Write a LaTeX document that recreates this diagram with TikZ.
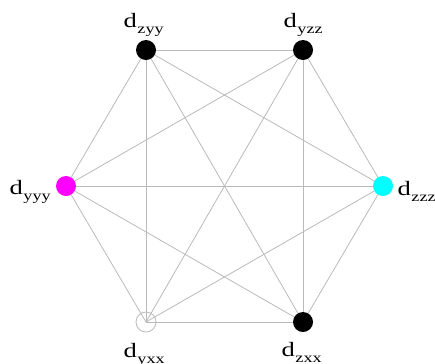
\documentclass[tikz,border=0pt]{standalone}
\usepackage{fontspec}
\setmainfont{Liberation Serif}[FakeStretch=1.3]
\definecolor{pmag}{RGB}{255,0,255}
\definecolor{pcyan}{RGB}{0,255,255}
\newcommand{\dlab}[1]{d\kern0.5bp\raisebox{-6bp}{\fontsize{14}{14}\selectfont #1}}
\begin{document}
\begin{tikzpicture}[x=1bp,y=-1bp,
  edge/.style={draw=black!27,line width=0.8bp},
  vtx/.style={circle,inner sep=0pt,minimum size=20bp},
  full/.style={vtx,fill=#1},
  hollow/.style={vtx,draw=black!27,line width=0.8bp},
  lbl/.style={font=\fontsize{20.5}{24}\selectfont,inner sep=0pt,anchor=base west}]
\useasboundingbox (0,0) rectangle (435,363);
\coordinate (zyy) at (146,50);
\coordinate (yzz) at (303,50);
\coordinate (yyy) at (66,186);
\coordinate (zzz) at (383,186);
\coordinate (yxx) at (146,322);
\coordinate (zxx) at (303,322);
\foreach \a/\b in {zyy/yzz,zyy/yyy,zyy/zzz,zyy/yxx,zyy/zxx,yzz/yyy,yzz/zzz,yzz/yxx,yzz/zxx,yyy/zzz,yyy/yxx,yyy/zxx,zzz/yxx,zzz/zxx,yxx/zxx}
  \draw[edge] (\a) -- (\b);
\node[full=black] (nzyy) at (zyy) {};
\node[full=black] (nyzz) at (yzz) {};
\node[full=pmag] (nyyy) at (yyy) {};
\node[full=pcyan] (nzzz) at (zzz) {};
\node[hollow] (nyxx) at (yxx) {};
\node[full=black] (nzxx) at (zxx) {};
\node[lbl] (lzyy) at (123.5,27) {\dlab{zyy}};
\node[lbl] (lyzz) at (283.5,27) {\dlab{yzz}};
\node[lbl] (lyyy) at (9.5,194) {\dlab{yyy}};
\node[lbl] (lzzz) at (397.5,195) {\dlab{zzz}};
\node[lbl] (lyxx) at (123.5,357) {\dlab{yxx}};
\node[lbl] (lzxx) at (281.5,356) {\dlab{zxx}};
\end{tikzpicture}
\end{document}
